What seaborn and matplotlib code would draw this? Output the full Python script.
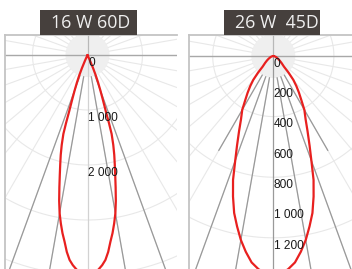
import numpy as np
import pandas as pd
import seaborn as sns
import matplotlib.pyplot as plt
from matplotlib.patches import Rectangle, Circle

W, H = 352, 269

# 16 W 60D: half profile, angle from nadir (deg) -> intensity (cd)
angles_60 = [0, 1, 2, 3, 4, 5, 6, 7, 8, 9, 10, 11, 12, 13, 14, 15, 16, 17,
             17.5, 18, 19, 20, 21, 22, 23, 24, 25]
cd_60 = [4000, 3990, 3960, 3900, 3830, 3740, 3600, 3420, 3270, 3100, 2920, 2700,
         2460, 2240, 2050, 1880, 1700, 1500, 1300, 1080, 850, 680, 540, 410, 260, 110, 0]
rings_60 = [1000, 2000, 3000, 4000]
labels_60 = [0, 1000, 2000]
beams_60 = [(10, 5000), (20, 5000)]

# 26 W 45D
angles_45 = [0, 2, 4, 6, 8, 10, 12, 14, 16, 18, 20, 22, 24.5, 27, 30, 32.5, 35,
             37.5, 40, 42.5, 45, 50, 55, 60, 70, 80, 90]
cd_45 = [1450, 1440, 1410, 1370, 1305, 1233, 1150, 1068, 965, 860, 735, 640, 545,
         470, 410, 344, 295, 250, 206, 150, 100, 70, 50, 35, 18, 6, 0]
rings_45 = [400, 800, 1200, 1600]
labels_45 = [0, 200, 400, 600, 800, 1000, 1200]
beams_45 = [(10, 2000), (20, 2000), (30, 720)]

RED = "#e8201f"


def fmt(v):
    return f"{v:,}".replace(",", " ")


def draw_panel(fig, box, center, scale, angles, cd, rings, labels, beams, axis_color):
    x0, y0, x1 = box
    cx, cy = center
    ax = fig.add_axes([x0 / W, 0, (x1 - x0) / W, (H - y0) / H])
    r0 = 22 / scale
    rmax = 400 / scale

    ax.add_patch(Circle((0, 0), r0, color="#efefef", zorder=0, lw=0))
    # light polar grid
    for a in range(0, 360, 10):
        if a % 90 == 0:
            continue
        t = np.radians(a)
        ax.plot([r0 * np.sin(t), rmax * np.sin(t)], [-r0 * np.cos(t), -rmax * np.cos(t)],
                color="#e8e8e8", lw=0.8, zorder=1)
    t = np.linspace(0, 2 * np.pi, 200)
    for r in rings:
        ax.plot(r * np.sin(t), r * np.cos(t), color="#e8e8e8", lw=0.8, zorder=1)

    # axes through the centre
    ax.axhline(0, color="#a8a8a8", lw=1.0, zorder=2)
    ax.plot([0, 0], [0, rmax], color="#b8b8b8", lw=0.9, zorder=2)
    ax.plot([0, 0], [0, -rmax], color=axis_color, lw=0.9, zorder=2)

    # beam lines
    for a, length in beams:
        for s in (-1, 1):
            tt = np.radians(s * a)
            ax.plot([r0 * np.sin(tt), length * np.sin(tt)], [-r0 * np.cos(tt), -length * np.cos(tt)],
                    color="#999999", lw=0.9, zorder=3)

    # intensity curve, mirrored
    full_a = [-a for a in angles[::-1]] + angles[1:]
    full_cd = cd[::-1] + cd[1:]
    rad = np.radians(full_a)
    df = pd.DataFrame({"x": np.array(full_cd) * np.sin(rad),
                       "y": -np.array(full_cd) * np.cos(rad)})
    sns.lineplot(data=df, x="x", y="y", sort=False, estimator=None, color=RED,
                 lw=1.6, ax=ax, zorder=5)

    for v in labels:
        ax.annotate(fmt(v), (0, -v), xytext=(0.4, -5.6), textcoords="offset points",
                    ha="left", va="center", fontsize=8.6, color="#1a1a1a",
                    family="Liberation Sans", zorder=6)

    ax.set_xlim((x0 - cx) / scale, (x1 - cx) / scale)
    ax.set_ylim(-(H - cy) / scale, (cy - y0) / scale)
    ax.set_xlabel("")
    ax.set_ylabel("")
    ax.set_xticks([])
    ax.set_yticks([])
    for side in ["right", "bottom"]:
        ax.spines[side].set_visible(False)
    for side in ["left", "top"]:
        ax.spines[side].set_color("#c4c4c4")
        ax.spines[side].set_linewidth(1.3)
    return ax


def title_box(fig, x0, y0, x1, y1, text, tx):
    fig.add_artist(Rectangle((x0 / W, 1 - y1 / H), (x1 - x0) / W, (y1 - y0) / H,
                             transform=fig.transFigure, color="#46403d", lw=0))
    fig.text(tx / W, 1 - (y0 + y1) / 2 / H, text, ha="center", va="center",
             color="#efefef", fontsize=12.8, family="Open Sans")


if __name__ == "__main__":
    sns.set_style("white")
    plt.rcParams["font.family"] = ["Open Sans", "DejaVu Sans"]

    fig = plt.figure(figsize=(W / 100, H / 100), dpi=100)
    fig.patch.set_facecolor("white")

    draw_panel(fig, (5, 35, 177), (87.5, 55), 0.055, angles_60, cd_60, rings_60,
               labels_60, beams_60, "#d2d2d2")
    draw_panel(fig, (189, 35, 352), (273.3, 56), 0.1515, angles_45, cd_45, rings_45,
               labels_45, beams_45, "#9a9a9a")

    title_box(fig, 40, 10, 137, 35, "16 W 60D", 91)
    title_box(fig, 224, 10, 320, 35, "26 W  45D", 277)

    plt.savefig("out.png", dpi=100)
    plt.close()
